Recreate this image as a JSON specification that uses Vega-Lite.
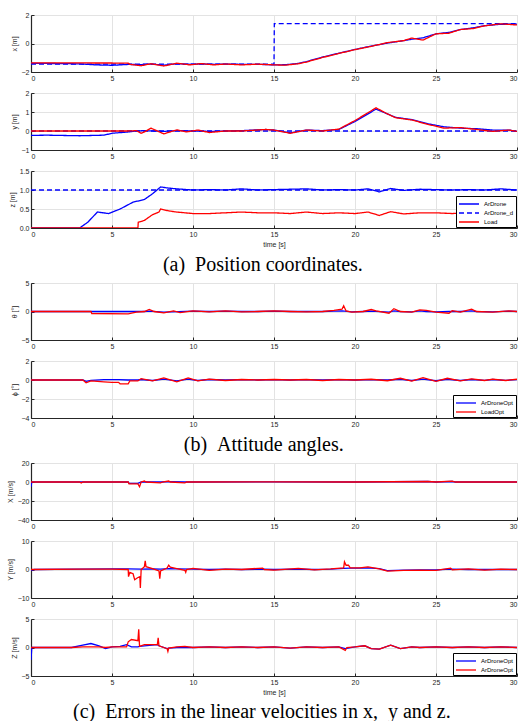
{
"$schema": "https://vega.github.io/schema/vega-lite/v6.json",
"padding": {"left": 5, "top": 10, "right": 0, "bottom": 0},
"spacing": 3,
"config": {
  "font": "Liberation Sans",
  "view": {"stroke": "#cfcfcf"},
  "concat": {"spacing": 6},
  "axis": {"labelFont": "Liberation Sans", "labelFontSize": 7, "labelColor": "#262626", "titleFont": "Liberation Sans", "titleFontSize": 7, "titleFontWeight": "normal", "titleColor": "#262626", "domainColor": "#262626", "domainWidth": 1.2, "tickColor": "#262626", "tickSize": -3, "labelPadding": 5, "gridColor": "#e3e3e3", "gridWidth": 1},
  "axisY": {"titlePadding": 4},
  "axisX": {"titlePadding": 3},
  "legend": {"labelFont": "Liberation Sans", "labelFontSize": 6, "labelColor": "#000000", "fillColor": "#ffffff", "strokeColor": "#000000", "padding": 2, "symbolType": "M-1,0L3,0", "symbolSize": 100, "symbolStrokeWidth": 1.3, "rowPadding": 0, "offset": 1, "labelOffset": 14, "orient": "bottom-right", "title": null},
  "title": {"font": "Liberation Serif", "fontSize": 20, "fontWeight": "normal", "color": "#000000", "orient": "bottom", "anchor": "middle"}
},
"datasets": {
  "px": [
    {"t":0,"ArDrone":-1.40,"ArDrone_d":-1.45,"Load":-1.36},
    {"t":1,"ArDrone":-1.40,"Load":-1.36},
    {"t":2,"ArDrone":-1.41,"Load":-1.36},
    {"t":3,"ArDrone":-1.43,"Load":-1.36},
    {"t":4,"ArDrone":-1.50,"Load":-1.37},
    {"t":5,"ArDrone":-1.53,"Load":-1.37},
    {"t":6,"ArDrone":-1.47,"Load":-1.38},
    {"t":6.1,"Load":-1.46},
    {"t":6.8,"ArDrone":-1.48,"Load":-1.56},
    {"t":7.4,"ArDrone":-1.44,"Load":-1.42},
    {"t":8.2,"ArDrone":-1.52,"Load":-1.58},
    {"t":9,"ArDrone":-1.42,"Load":-1.38},
    {"t":9.8,"ArDrone":-1.46,"Load":-1.50},
    {"t":10.5,"ArDrone":-1.43,"Load":-1.41},
    {"t":11.3,"ArDrone":-1.46,"Load":-1.50},
    {"t":12,"ArDrone":-1.45,"Load":-1.44},
    {"t":13,"ArDrone":-1.46,"Load":-1.50},
    {"t":14,"ArDrone":-1.46,"Load":-1.45},
    {"t":15,"ArDrone":-1.50,"ArDrone_d":-1.45,"Load":-1.50},
    {"t":15.02,"ArDrone_d":1.4},
    {"t":15.7,"ArDrone":-1.49,"Load":-1.52},
    {"t":16.5,"ArDrone":-1.40,"Load":-1.42},
    {"t":17,"ArDrone":-1.27,"Load":-1.30},
    {"t":18,"ArDrone":-0.95,"Load":-0.98},
    {"t":19,"ArDrone":-0.68,"Load":-0.70},
    {"t":20,"ArDrone":-0.42,"Load":-0.43},
    {"t":21,"ArDrone":-0.18,"Load":-0.20},
    {"t":22,"ArDrone":0.03,"Load":0.06},
    {"t":23,"ArDrone":0.20,"Load":0.20},
    {"t":23.5,"ArDrone":0.30,"Load":0.38},
    {"t":24.2,"ArDrone":0.40,"Load":0.24},
    {"t":25,"ArDrone":0.68,"Load":0.68},
    {"t":25.8,"ArDrone":0.78,"Load":0.72},
    {"t":26.5,"ArDrone":0.98,"Load":0.98},
    {"t":27.3,"ArDrone":1.10,"Load":1.05},
    {"t":28,"ArDrone":1.25,"Load":1.24},
    {"t":29,"ArDrone":1.35,"Load":1.38},
    {"t":30,"ArDrone":1.36,"ArDrone_d":1.4,"Load":1.30}
  ],
  "py": [
    {"t":0,"ArDrone":-0.23,"ArDrone_d":0,"Load":0},
    {"t":1,"ArDrone":-0.22},
    {"t":3,"ArDrone":-0.25},
    {"t":4.5,"ArDrone":-0.22},
    {"t":5,"ArDrone":-0.12},
    {"t":6,"ArDrone":-0.05,"Load":0},
    {"t":6.5,"ArDrone":0,"Load":0.02},
    {"t":6.8,"Load":-0.12},
    {"t":7.0,"ArDrone":0.02,"Load":-0.05},
    {"t":7.4,"Load":0.15},
    {"t":8.2,"ArDrone":-0.02,"Load":-0.15},
    {"t":9,"ArDrone":0.02,"Load":0.06},
    {"t":9.6,"Load":-0.05},
    {"t":10.3,"ArDrone":0,"Load":0.05},
    {"t":11,"ArDrone":-0.02,"Load":-0.08},
    {"t":12,"ArDrone":0,"Load":0},
    {"t":13,"ArDrone":0.02,"Load":0},
    {"t":14.5,"ArDrone":0.08,"Load":0.08},
    {"t":15,"ArDrone":0.05,"Load":0.05},
    {"t":16,"ArDrone":-0.1,"Load":-0.12},
    {"t":17,"ArDrone":0.05,"Load":0.05},
    {"t":18,"ArDrone":0.02,"Load":0},
    {"t":19,"ArDrone":0.08,"Load":0.1},
    {"t":20,"ArDrone":0.5,"Load":0.55},
    {"t":21.3,"ArDrone":1.15,"Load":1.22},
    {"t":22,"ArDrone":0.9,"Load":0.9},
    {"t":22.5,"ArDrone":0.72,"Load":0.7},
    {"t":23.5,"ArDrone":0.6,"Load":0.58},
    {"t":24.5,"ArDrone":0.38,"Load":0.35},
    {"t":25.5,"ArDrone":0.22,"Load":0.15},
    {"t":26.5,"ArDrone":0.15,"Load":0.18},
    {"t":27.5,"ArDrone":0.12,"Load":0.08},
    {"t":28.5,"ArDrone":0.05,"Load":-0.02},
    {"t":29.5,"ArDrone":0.05,"Load":0.05},
    {"t":30,"ArDrone":-0.02,"ArDrone_d":0,"Load":-0.02}
  ],
  "pz": [
    {"t":0,"ArDrone":0,"ArDrone_d":1,"Load":0},
    {"t":3,"ArDrone":0},
    {"t":3.5,"ArDrone":0.15},
    {"t":4.1,"ArDrone":0.42},
    {"t":4.8,"ArDrone":0.38},
    {"t":5.5,"ArDrone":0.5},
    {"t":6.3,"ArDrone":0.68},
    {"t":6.6,"Load":0},
    {"t":6.62,"Load":0.15},
    {"t":7,"ArDrone":0.75,"Load":0.2},
    {"t":7.5,"ArDrone":0.9,"Load":0.35},
    {"t":7.9,"Load":0.42},
    {"t":8.0,"ArDrone":1.08,"Load":0.5},
    {"t":8.5,"ArDrone":1.05,"Load":0.45},
    {"t":9.0,"ArDrone":1.03,"Load":0.42},
    {"t":10,"ArDrone":1.0,"Load":0.38},
    {"t":11,"ArDrone":1.01,"Load":0.38},
    {"t":12,"ArDrone":1.0,"Load":0.4},
    {"t":13,"ArDrone":1.03,"Load":0.42},
    {"t":14,"ArDrone":1.0,"Load":0.4},
    {"t":15,"ArDrone":1.01,"Load":0.4},
    {"t":16,"ArDrone":1.02,"Load":0.38},
    {"t":17,"ArDrone":1.03,"Load":0.42},
    {"t":18,"ArDrone":1.0,"Load":0.38},
    {"t":19,"ArDrone":1.01,"Load":0.4},
    {"t":20,"ArDrone":1.0,"Load":0.38},
    {"t":20.8,"ArDrone":1.03,"Load":0.42},
    {"t":21.5,"ArDrone":0.95,"Load":0.33},
    {"t":22.2,"ArDrone":1.04,"Load":0.43},
    {"t":23,"ArDrone":0.99,"Load":0.37},
    {"t":24,"ArDrone":1.02,"Load":0.4},
    {"t":25,"ArDrone":1.01,"Load":0.4},
    {"t":26,"ArDrone":1.0,"Load":0.38},
    {"t":27,"ArDrone":1.01,"Load":0.4},
    {"t":28,"ArDrone":1.0,"Load":0.38},
    {"t":29,"ArDrone":1.03,"Load":0.4},
    {"t":30,"ArDrone":1.0,"ArDrone_d":1,"Load":0.4}
  ],
  "th": [
    {"t":0,"ArDroneOpt":0,"LoadOpt":0},
    {"t":3.7,"ArDroneOpt":0,"LoadOpt":0},
    {"t":3.75,"LoadOpt":-0.35},
    {"t":6,"LoadOpt":-0.4},
    {"t":6.5,"LoadOpt":-0.1},
    {"t":7,"ArDroneOpt":0,"LoadOpt":0},
    {"t":7.3,"ArDroneOpt":0.05,"LoadOpt":0.35},
    {"t":7.6,"LoadOpt":0},
    {"t":8.2,"ArDroneOpt":-0.1,"LoadOpt":-0.25},
    {"t":8.8,"LoadOpt":0.1},
    {"t":9.2,"LoadOpt":-0.2},
    {"t":10,"ArDroneOpt":0.05,"LoadOpt":0.1},
    {"t":11,"ArDroneOpt":0,"LoadOpt":-0.05},
    {"t":12,"ArDroneOpt":0.05,"LoadOpt":0.1},
    {"t":13,"ArDroneOpt":0,"LoadOpt":-0.05},
    {"t":14,"ArDroneOpt":0,"LoadOpt":0},
    {"t":15,"ArDroneOpt":0.05,"LoadOpt":0.1},
    {"t":16,"ArDroneOpt":0,"LoadOpt":0},
    {"t":17,"ArDroneOpt":0,"LoadOpt":-0.05},
    {"t":18,"ArDroneOpt":0,"LoadOpt":0},
    {"t":18.7,"ArDroneOpt":0.05,"LoadOpt":0.2},
    {"t":19.2,"ArDroneOpt":0.1,"LoadOpt":0.4},
    {"t":19.3,"LoadOpt":1.0},
    {"t":19.45,"LoadOpt":0.1},
    {"t":19.8,"ArDroneOpt":-0.05,"LoadOpt":-0.1},
    {"t":20.5,"ArDroneOpt":0,"LoadOpt":0},
    {"t":21,"ArDroneOpt":0.05,"LoadOpt":0.35},
    {"t":21.3,"LoadOpt":0.1},
    {"t":22.1,"ArDroneOpt":-0.1,"LoadOpt":-0.3},
    {"t":22.4,"ArDroneOpt":0.1,"LoadOpt":0.5},
    {"t":22.8,"ArDroneOpt":0,"LoadOpt":0},
    {"t":23.5,"ArDroneOpt":-0.05,"LoadOpt":-0.1},
    {"t":24,"ArDroneOpt":0.1,"LoadOpt":0.3},
    {"t":24.4,"ArDroneOpt":0,"LoadOpt":0.2},
    {"t":25,"ArDroneOpt":-0.05,"LoadOpt":-0.1},
    {"t":25.8,"ArDroneOpt":0,"LoadOpt":-0.3},
    {"t":26,"ArDroneOpt":0,"LoadOpt":0.15},
    {"t":26.5,"ArDroneOpt":0,"LoadOpt":-0.1},
    {"t":27.2,"ArDroneOpt":0.1,"LoadOpt":0.4},
    {"t":27.5,"ArDroneOpt":0,"LoadOpt":0},
    {"t":28.5,"ArDroneOpt":-0.05,"LoadOpt":-0.1},
    {"t":29.5,"ArDroneOpt":0.05,"LoadOpt":0.1},
    {"t":30,"ArDroneOpt":0,"LoadOpt":0}
  ],
  "ph": [
    {"t":0,"ArDroneOpt":0,"LoadOpt":0},
    {"t":3.2,"ArDroneOpt":0,"LoadOpt":0},
    {"t":3.4,"ArDroneOpt":-0.15,"LoadOpt":-0.3},
    {"t":3.7,"ArDroneOpt":-0.05,"LoadOpt":-0.1},
    {"t":4.5,"ArDroneOpt":0.05,"LoadOpt":-0.2},
    {"t":5.0,"ArDroneOpt":0.05,"LoadOpt":-0.25},
    {"t":5.4,"ArDroneOpt":0.05,"LoadOpt":-0.25},
    {"t":5.5,"LoadOpt":-0.4},
    {"t":6.0,"ArDroneOpt":0,"LoadOpt":-0.4},
    {"t":6.1,"LoadOpt":-0.1},
    {"t":6.6,"ArDroneOpt":0,"LoadOpt":-0.1},
    {"t":6.8,"ArDroneOpt":0.05,"LoadOpt":0.15},
    {"t":7.5,"ArDroneOpt":-0.05,"LoadOpt":-0.1},
    {"t":8.2,"ArDroneOpt":0.1,"LoadOpt":0.22},
    {"t":9.0,"ArDroneOpt":-0.1,"LoadOpt":-0.2},
    {"t":9.7,"ArDroneOpt":0.1,"LoadOpt":0.22},
    {"t":10.3,"ArDroneOpt":-0.05,"LoadOpt":-0.1},
    {"t":11,"ArDroneOpt":0.05,"LoadOpt":0.1},
    {"t":12,"ArDroneOpt":0,"LoadOpt":-0.05},
    {"t":13,"ArDroneOpt":0.03,"LoadOpt":0.05},
    {"t":14,"ArDroneOpt":0,"LoadOpt":0},
    {"t":15,"ArDroneOpt":0.03,"LoadOpt":0.05},
    {"t":16,"ArDroneOpt":0,"LoadOpt":0},
    {"t":17,"ArDroneOpt":0.03,"LoadOpt":0.05},
    {"t":18,"ArDroneOpt":0,"LoadOpt":-0.05},
    {"t":19,"ArDroneOpt":0.03,"LoadOpt":0.05},
    {"t":20,"ArDroneOpt":0,"LoadOpt":0},
    {"t":21,"ArDroneOpt":0.03,"LoadOpt":0.08},
    {"t":22,"ArDroneOpt":0,"LoadOpt":-0.08},
    {"t":22.8,"ArDroneOpt":0.08,"LoadOpt":0.18},
    {"t":23.5,"ArDroneOpt":-0.05,"LoadOpt":-0.12},
    {"t":24.2,"ArDroneOpt":0.1,"LoadOpt":0.25},
    {"t":25.0,"ArDroneOpt":-0.08,"LoadOpt":-0.15},
    {"t":25.7,"ArDroneOpt":0.08,"LoadOpt":0.18},
    {"t":26.5,"ArDroneOpt":-0.05,"LoadOpt":-0.1},
    {"t":27.2,"ArDroneOpt":0.05,"LoadOpt":0.12},
    {"t":28,"ArDroneOpt":-0.03,"LoadOpt":-0.05},
    {"t":28.5,"ArDroneOpt":0.05,"LoadOpt":0.1},
    {"t":29.3,"ArDroneOpt":-0.03,"LoadOpt":-0.05},
    {"t":30,"ArDroneOpt":0.03,"LoadOpt":0.08}
  ],
  "vx": [
    {"t":0,"A":-5,"B":0},
    {"t":0.05,"A":0},
    {"t":3,"A":0,"B":0},
    {"t":3.1,"B":-1},
    {"t":3.2,"B":0},
    {"t":6,"A":0,"B":0},
    {"t":6.05,"A":-1.5,"B":-2},
    {"t":6.6,"A":-1.5,"B":-2},
    {"t":6.7,"B":-5},
    {"t":6.8,"A":0,"B":0},
    {"t":7.0,"B":1},
    {"t":7.1,"B":0},
    {"t":8,"A":0,"B":-1},
    {"t":8.1,"B":0},
    {"t":8.5,"A":0.3,"B":1},
    {"t":8.6,"B":0},
    {"t":9.5,"A":0,"B":-1},
    {"t":9.6,"B":0},
    {"t":15,"A":0.2,"B":0.2},
    {"t":20,"A":0,"B":0},
    {"t":24.5,"A":0.5,"B":0.5},
    {"t":25,"A":0,"B":0},
    {"t":26,"A":0.5,"B":1},
    {"t":26.2,"A":0,"B":0},
    {"t":30,"A":0,"B":0}
  ],
  "vy": [
    {"t":0,"A":-0.3,"B":0},
    {"t":0.2,"A":0},
    {"t":3,"A":0.1,"B":0.1},
    {"t":5,"A":0.2,"B":0.1},
    {"t":6.0,"A":0.2,"B":0},
    {"t":6.02,"B":-2.5},
    {"t":6.1,"B":-1},
    {"t":6.3,"B":-1.5},
    {"t":6.4,"B":-3.6},
    {"t":6.6,"B":-2.8},
    {"t":6.72,"B":-2.5},
    {"t":6.75,"B":-6.5},
    {"t":6.8,"A":0.1,"B":0},
    {"t":7.0,"B":1},
    {"t":7.05,"B":3.0},
    {"t":7.1,"B":1},
    {"t":7.5,"A":0.2,"B":0.3},
    {"t":7.9,"B":-0.5},
    {"t":7.95,"B":-3.2},
    {"t":8.0,"A":0.1,"B":-0.5},
    {"t":8.4,"B":0.5},
    {"t":8.5,"A":0.3,"B":1.5},
    {"t":8.6,"B":0.8},
    {"t":9.0,"A":0.2,"B":0.3},
    {"t":9.5,"B":-0.3},
    {"t":9.55,"B":-1},
    {"t":9.6,"B":0},
    {"t":10,"A":0.1,"B":0.4},
    {"t":11,"A":0,"B":-0.3},
    {"t":12,"A":0.1,"B":0.1},
    {"t":13,"A":0,"B":0},
    {"t":14.3,"A":0.1,"B":0.5},
    {"t":14.4,"B":0},
    {"t":15,"A":0,"B":-0.2},
    {"t":16.5,"A":0.1,"B":0.4},
    {"t":17.5,"A":0,"B":-0.1},
    {"t":18.5,"A":0.1,"B":0.2},
    {"t":19.3,"A":0.4,"B":0.6},
    {"t":19.35,"B":2.7},
    {"t":19.45,"B":1.5},
    {"t":19.6,"B":1.5},
    {"t":19.7,"A":0.5,"B":0.6},
    {"t":20.3,"A":0.5,"B":0.6},
    {"t":20.8,"A":0.6,"B":0.9},
    {"t":21.5,"A":0.3,"B":0.2},
    {"t":22.0,"A":-0.4,"B":-0.6},
    {"t":23.0,"A":-0.2,"B":-0.3},
    {"t":24.0,"A":-0.1,"B":-0.2},
    {"t":25.0,"A":-0.1,"B":-0.3},
    {"t":25.9,"A":0.1,"B":0.5},
    {"t":26.0,"B":-0.1},
    {"t":27.0,"A":0,"B":0.2},
    {"t":28.0,"A":0,"B":-0.2},
    {"t":29.0,"A":0,"B":0.1},
    {"t":30,"A":0,"B":0}
  ],
  "vz": [
    {"t":0,"A":-2.2,"B":0},
    {"t":0.05,"A":0},
    {"t":2.5,"A":0,"B":0},
    {"t":3.2,"A":0.4,"B":0.1},
    {"t":3.7,"A":0.7,"B":0.1},
    {"t":4.2,"A":0.3,"B":0.1},
    {"t":4.6,"A":-0.2,"B":0},
    {"t":5.0,"A":0.1,"B":0.1},
    {"t":5.5,"A":0.2,"B":0.1},
    {"t":5.9,"A":0.5,"B":0.1},
    {"t":6.0,"B":1.0},
    {"t":6.2,"A":0.1,"B":1.4},
    {"t":6.6,"A":0.1,"B":1.2},
    {"t":6.65,"B":3.2},
    {"t":6.7,"A":0.2,"B":0.2},
    {"t":7.0,"A":0.3,"B":0.5},
    {"t":7.8,"A":0.5,"B":0.5},
    {"t":7.85,"B":1.7},
    {"t":7.9,"A":0.3,"B":0.3},
    {"t":8.4,"A":-0.2,"B":-0.2},
    {"t":8.45,"B":-0.7},
    {"t":8.5,"A":-0.1,"B":-0.1},
    {"t":9.0,"A":0,"B":0.1},
    {"t":9.5,"A":0,"B":0.2},
    {"t":10,"A":0,"B":0},
    {"t":11,"A":0.1,"B":0.1},
    {"t":12,"A":0,"B":0},
    {"t":13,"A":0.1,"B":0.1},
    {"t":14,"A":0,"B":0},
    {"t":15,"A":0.1,"B":0.1},
    {"t":16,"A":-0.1,"B":-0.1},
    {"t":17,"A":0.1,"B":0.1},
    {"t":18,"A":0,"B":0},
    {"t":19,"A":0.1,"B":0.1},
    {"t":19.4,"A":-0.2,"B":-0.5},
    {"t":19.5,"B":0},
    {"t":20,"A":0.1,"B":0.1},
    {"t":20.6,"A":0.3,"B":0.3},
    {"t":21.0,"A":-0.2,"B":-0.2},
    {"t":21.5,"A":-0.3,"B":-0.3},
    {"t":22.2,"A":0.4,"B":0.4},
    {"t":22.8,"A":-0.2,"B":-0.2},
    {"t":23.5,"A":0.1,"B":0.1},
    {"t":24,"A":0,"B":0},
    {"t":25,"A":0.1,"B":0.1},
    {"t":26,"A":0,"B":0},
    {"t":27,"A":0.1,"B":0.1},
    {"t":28,"A":0,"B":0},
    {"t":29,"A":0.1,"B":0.1},
    {"t":30,"A":0,"B":0}
  ]
},
"resolve": {"scale": {"y": "independent", "color": "independent", "strokeDash": "independent"}, "legend": {"color": "independent", "strokeDash": "independent"}},
"vconcat": [
  {
    "title": {"text": "(a)\u00a0\u00a0Position coordinates.", "offset": 7},
    "spacing": 6,
    "resolve": {"scale": {"y": "independent", "color": "independent", "strokeDash": "independent"}, "legend": {"color": "independent", "strokeDash": "independent"}},
    "vconcat": [
      {
        "width": 486, "height": 57,
        "data": {"name": "px"},
        "transform": [{"fold": ["ArDrone_d", "ArDrone", "Load"], "as": ["s", "v"]}],
        "mark": {"type": "line", "strokeWidth": 1.3, "clip": true, "invalid": "filter"},
        "encoding": {
          "x": {"field": "t", "type": "quantitative", "scale": {"domain": [0, 30], "nice": false}, "axis": {"values": [0, 5, 10, 15, 20, 25, 30], "title": null}},
          "y": {"field": "v", "type": "quantitative", "scale": {"domain": [-2, 2], "nice": false}, "axis": {"values": [-2, 0, 2], "title": "x [m]"}},
          "color": {"field": "s", "type": "nominal", "scale": {"domain": ["ArDrone", "ArDrone_d", "Load"], "range": ["#0000ff", "#0000ff", "#ff0000"]}, "legend": null},
          "strokeDash": {"field": "s", "type": "nominal", "scale": {"domain": ["ArDrone", "ArDrone_d", "Load"], "range": [[1, 0], [5, 3], [1, 0]]}, "legend": null}
        }
      },
      {
        "width": 486, "height": 57,
        "data": {"name": "py"},
        "transform": [{"fold": ["ArDrone_d", "ArDrone", "Load"], "as": ["s", "v"]}],
        "mark": {"type": "line", "strokeWidth": 1.3, "clip": true, "invalid": "filter"},
        "encoding": {
          "x": {"field": "t", "type": "quantitative", "scale": {"domain": [0, 30], "nice": false}, "axis": {"values": [0, 5, 10, 15, 20, 25, 30], "title": null}},
          "y": {"field": "v", "type": "quantitative", "scale": {"domain": [-1, 2], "nice": false}, "axis": {"values": [-1, 0, 1, 2], "title": "y [m]"}},
          "color": {"field": "s", "type": "nominal", "scale": {"domain": ["ArDrone", "ArDrone_d", "Load"], "range": ["#0000ff", "#0000ff", "#ff0000"]}, "legend": null},
          "strokeDash": {"field": "s", "type": "nominal", "scale": {"domain": ["ArDrone", "ArDrone_d", "Load"], "range": [[1, 0], [5, 3], [1, 0]]}, "legend": null}
        }
      },
      {
        "width": 486, "height": 57,
        "data": {"name": "pz"},
        "transform": [{"fold": ["ArDrone_d", "ArDrone", "Load"], "as": ["s", "v"]}],
        "mark": {"type": "line", "strokeWidth": 1.3, "clip": true, "invalid": "filter"},
        "encoding": {
          "x": {"field": "t", "type": "quantitative", "scale": {"domain": [0, 30], "nice": false}, "axis": {"values": [0, 5, 10, 15, 20, 25, 30], "title": "time [s]"}},
          "y": {"field": "v", "type": "quantitative", "scale": {"domain": [0, 1.5], "nice": false}, "axis": {"values": [0, 0.5, 1, 1.5], "title": "z [m]"}},
          "color": {"field": "s", "type": "nominal", "scale": {"domain": ["ArDrone", "ArDrone_d", "Load"], "range": ["#0000ff", "#0000ff", "#ff0000"]}, "legend": {}},
          "strokeDash": {"field": "s", "type": "nominal", "scale": {"domain": ["ArDrone", "ArDrone_d", "Load"], "range": [[1, 0], [5, 3], [1, 0]]}, "legend": {}}
        }
      }
    ]
  },
  {
    "title": {"text": "(b)\u00a0\u00a0Attitude angles.", "offset": 7},
    "spacing": 6,
    "resolve": {"scale": {"y": "independent", "color": "independent"}, "legend": {"color": "independent"}},
    "vconcat": [
      {
        "width": 486, "height": 57,
        "data": {"name": "th"},
        "transform": [{"fold": ["ArDroneOpt", "LoadOpt"], "as": ["s", "v"]}],
        "mark": {"type": "line", "strokeWidth": 1.3, "clip": true, "invalid": "filter"},
        "encoding": {
          "x": {"field": "t", "type": "quantitative", "scale": {"domain": [0, 30], "nice": false}, "axis": {"values": [0, 5, 10, 15, 20, 25, 30], "title": null}},
          "y": {"field": "v", "type": "quantitative", "scale": {"domain": [-5, 5], "nice": false}, "axis": {"values": [-5, 0, 5], "title": "θ [°]"}},
          "color": {"field": "s", "type": "nominal", "scale": {"domain": ["ArDroneOpt", "LoadOpt"], "range": ["#0000ff", "#ff0000"]}, "legend": null}
        }
      },
      {
        "width": 486, "height": 57,
        "data": {"name": "ph"},
        "transform": [{"fold": ["ArDroneOpt", "LoadOpt"], "as": ["s", "v"]}],
        "mark": {"type": "line", "strokeWidth": 1.3, "clip": true, "invalid": "filter"},
        "encoding": {
          "x": {"field": "t", "type": "quantitative", "scale": {"domain": [0, 30], "nice": false}, "axis": {"values": [0, 5, 10, 15, 20, 25, 30], "title": null}},
          "y": {"field": "v", "type": "quantitative", "scale": {"domain": [-4, 2], "nice": false}, "axis": {"values": [-4, -2, 0, 2], "title": "ϕ [°]"}},
          "color": {"field": "s", "type": "nominal", "scale": {"domain": ["ArDroneOpt", "LoadOpt"], "range": ["#0000ff", "#ff0000"]}, "legend": {}}
        }
      }
    ]
  },
  {
    "title": {"text": "(c)\u00a0\u00a0Errors in the linear velocities in x, \u00a0y and z.", "offset": 6},
    "spacing": 6,
    "resolve": {"scale": {"y": "independent", "color": "independent"}, "legend": {"color": "independent"}},
    "vconcat": [
      {
        "width": 486, "height": 57,
        "data": {"name": "vx"},
        "transform": [{"fold": ["A", "B"], "as": ["s", "v"]}],
        "mark": {"type": "line", "strokeWidth": 1.3, "clip": true, "invalid": "filter"},
        "encoding": {
          "x": {"field": "t", "type": "quantitative", "scale": {"domain": [0, 30], "nice": false}, "axis": {"values": [0, 5, 10, 15, 20, 25, 30], "title": null}},
          "y": {"field": "v", "type": "quantitative", "scale": {"domain": [-40, 20], "nice": false}, "axis": {"values": [-40, -20, 0, 20], "title": "X [m/s]"}},
          "color": {"field": "s", "type": "nominal", "scale": {"domain": ["A", "B"], "range": ["#0000ff", "#ff0000"]}, "legend": null}
        }
      },
      {
        "width": 486, "height": 57,
        "data": {"name": "vy"},
        "transform": [{"fold": ["A", "B"], "as": ["s", "v"]}],
        "mark": {"type": "line", "strokeWidth": 1.3, "clip": true, "invalid": "filter"},
        "encoding": {
          "x": {"field": "t", "type": "quantitative", "scale": {"domain": [0, 30], "nice": false}, "axis": {"values": [0, 5, 10, 15, 20, 25, 30], "title": null}},
          "y": {"field": "v", "type": "quantitative", "scale": {"domain": [-10, 10], "nice": false}, "axis": {"values": [-10, 0, 10], "title": "Y [m/s]"}},
          "color": {"field": "s", "type": "nominal", "scale": {"domain": ["A", "B"], "range": ["#0000ff", "#ff0000"]}, "legend": null}
        }
      },
      {
        "width": 486, "height": 57,
        "data": {"name": "vz"},
        "transform": [{"fold": ["A", "B"], "as": ["s", "v"]}],
        "mark": {"type": "line", "strokeWidth": 1.3, "clip": true, "invalid": "filter"},
        "encoding": {
          "x": {"field": "t", "type": "quantitative", "scale": {"domain": [0, 30], "nice": false}, "axis": {"values": [0, 5, 10, 15, 20, 25, 30], "title": "time [s]"}},
          "y": {"field": "v", "type": "quantitative", "scale": {"domain": [-5, 5], "nice": false}, "axis": {"values": [-5, 0, 5], "title": "Z [m/s]"}},
          "color": {"field": "s", "type": "nominal", "scale": {"domain": ["A", "B"], "range": ["#0000ff", "#ff0000"]}, "legend": {"labelExpr": "'ArDroneOpt'"}}
        }
      }
    ]
  }
]
}
